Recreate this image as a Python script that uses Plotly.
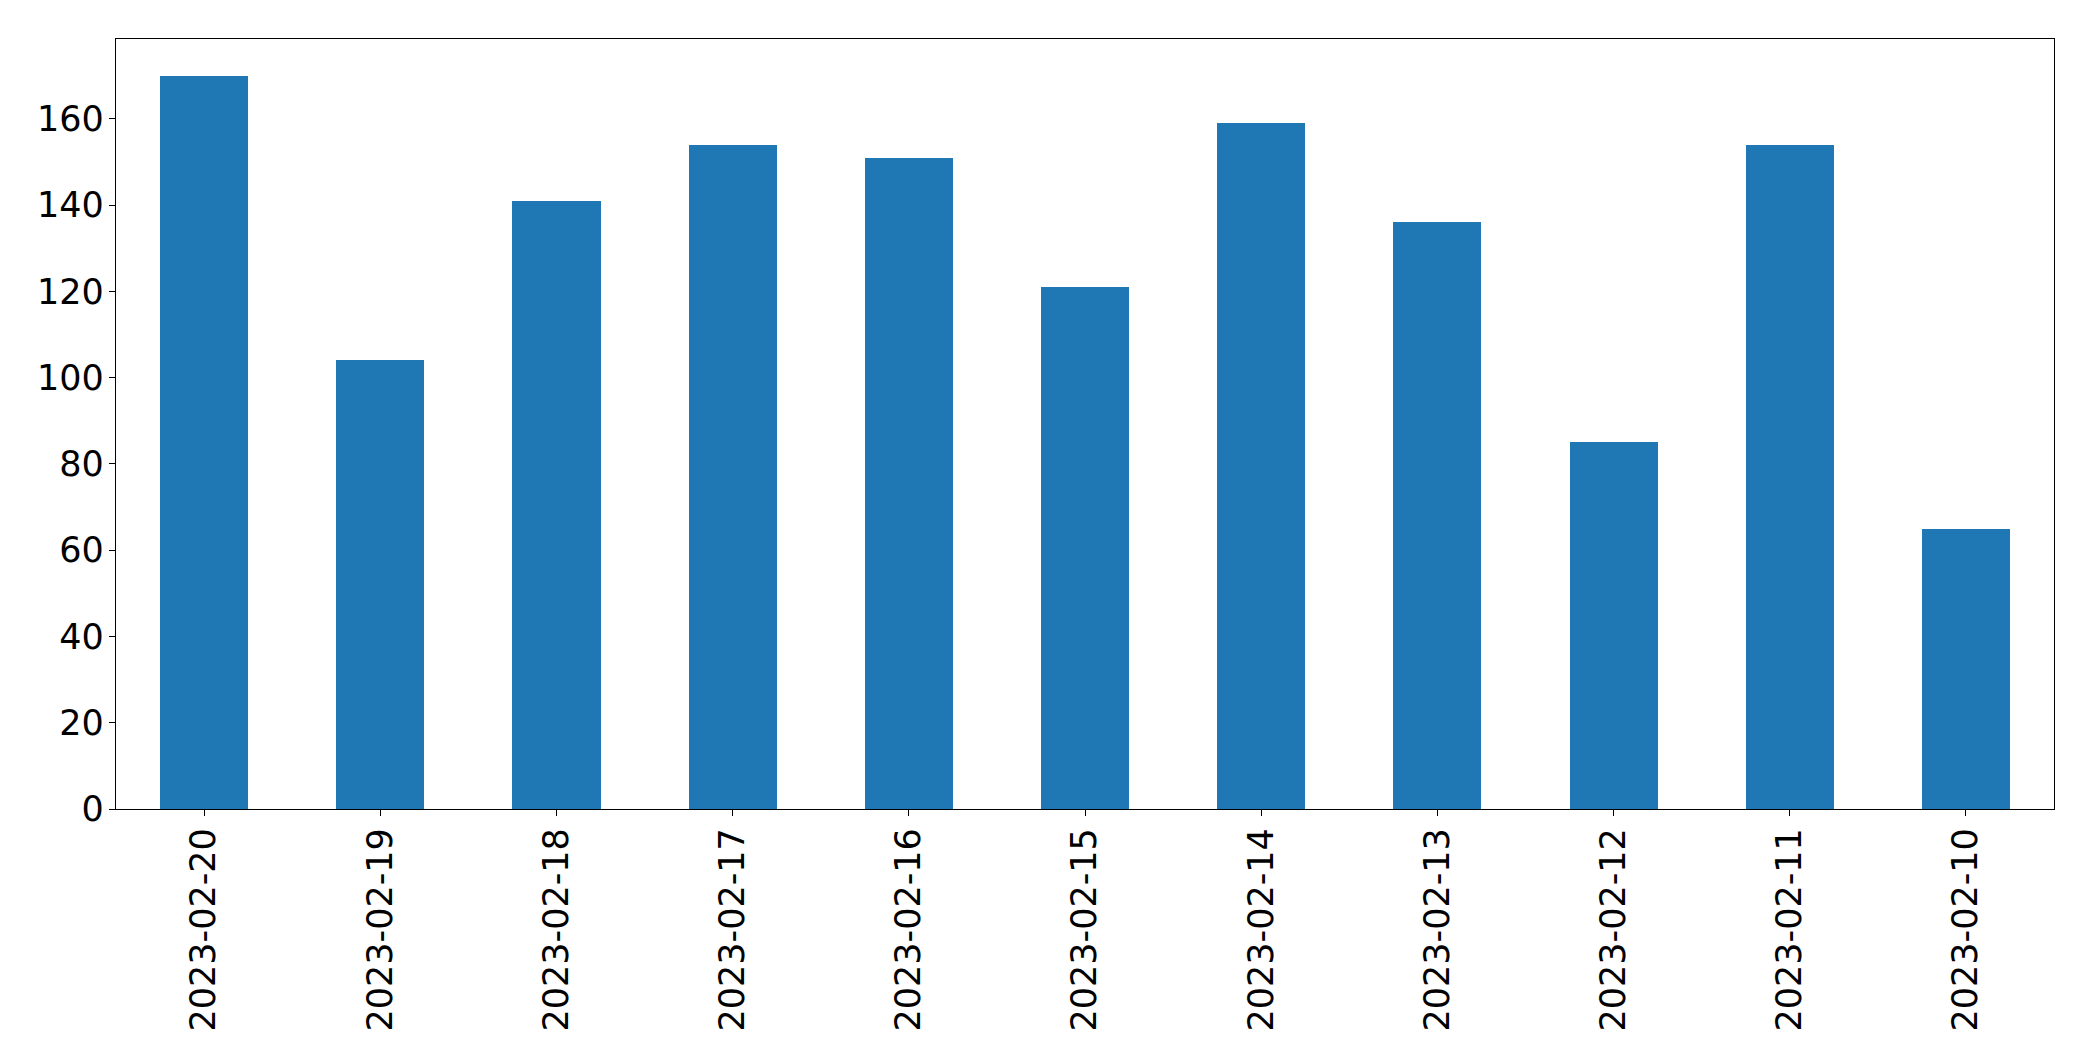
import plotly.graph_objects as go

dates = ["2023-02-20", "2023-02-19", "2023-02-18", "2023-02-17", "2023-02-16", "2023-02-15",
         "2023-02-14", "2023-02-13", "2023-02-12", "2023-02-11", "2023-02-10"]
counts = [170, 104, 141, 154, 151, 121, 159, 136, 85, 154, 65]
y_ticks = [0, 20, 40, 60, 80, 100, 120, 140, 160]

fig = go.Figure(go.Bar(x=dates, y=counts, marker_color="#1f77b4", marker_line_width=0, width=0.5))

font = dict(family="DejaVu Sans", size=35, color="black")
fig.update_layout(
    width=2077, height=1045,
    margin=dict(l=108, r=31, t=31, b=244, autoexpand=False),
    plot_bgcolor="white", paper_bgcolor="white",
    showlegend=False, bargap=0,
    font=font,
)
fig.update_xaxes(
    type="category", range=[-0.5, len(dates) - 0.5],
    tickangle=-90, ticks="outside", ticklen=6, tickwidth=1.2, tickcolor="black",
    showline=True, linecolor="black", linewidth=1.3, mirror=True,
    showgrid=False, zeroline=False, tickfont=font, ticklabelstandoff=-2,
)
fig.update_yaxes(
    range=[0, max(counts) * 1.05], tickmode="array", tickvals=y_ticks,
    ticks="outside", ticklen=6, tickwidth=1.2, tickcolor="black",
    showline=True, linecolor="black", linewidth=1.3, mirror=True,
    showgrid=False, zeroline=False, tickfont=font, ticklabelstandoff=-2,
)
fig.write_html("out.html")
